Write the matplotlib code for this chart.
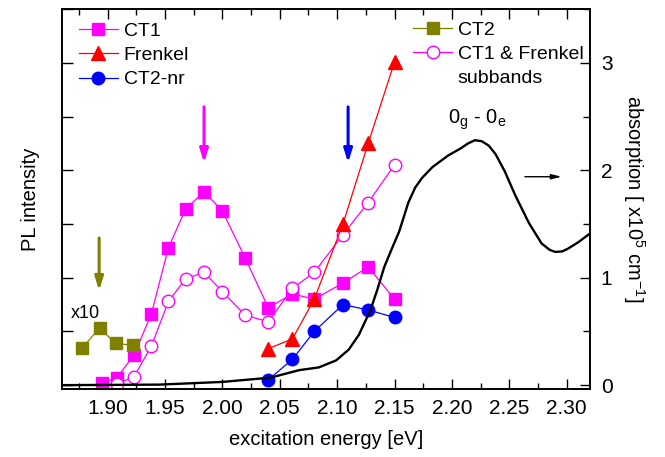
import matplotlib
matplotlib.use("Agg")
import matplotlib.pyplot as plt
from matplotlib.lines import Line2D
from matplotlib.ticker import MultipleLocator, NullFormatter

plt.rcParams['font.family'] = ['Liberation Sans', 'DejaVu Sans']
plt.rcParams['mathtext.fontset'] = 'custom'
plt.rcParams['mathtext.rm'] = 'Liberation Sans'

# PL excitation spectra (arb. units, same scale as the absorption axis)
ct1_x = [1.895, 1.908, 1.923, 1.938, 1.953, 1.968, 1.984, 2.000, 2.020, 2.040, 2.061, 2.080, 2.105, 2.127, 2.150]
ct1_y = [0.02, 0.07, 0.28, 0.66, 1.28, 1.64, 1.80, 1.62, 1.18, 0.72, 0.85, 0.80, 0.95, 1.10, 0.80]

sub_x = [1.908, 1.923, 1.938, 1.953, 1.968, 1.984, 2.000, 2.020, 2.040, 2.061, 2.080, 2.105, 2.127, 2.150]
sub_y = [0.01, 0.08, 0.36, 0.78, 0.99, 1.05, 0.87, 0.65, 0.59, 0.90, 1.05, 1.40, 1.70, 2.05]

frenkel_x = [2.040, 2.061, 2.080, 2.105, 2.127, 2.150]
frenkel_y = [0.34, 0.43, 0.80, 1.50, 2.25, 3.01]

ct2nr_x = [2.040, 2.061, 2.080, 2.105, 2.127, 2.150]
ct2nr_y = [0.05, 0.24, 0.50, 0.75, 0.70, 0.63]

ct2_x = [1.878, 1.893, 1.907, 1.922]
ct2_y = [0.35, 0.53, 0.39, 0.37]

# absorption spectrum [x10^5 cm^-1]
abs_x = [1.860, 1.945, 2.000, 2.042, 2.067, 2.084, 2.099, 2.110, 2.119, 2.129,
         2.135, 2.141, 2.148, 2.154, 2.162, 2.168, 2.174, 2.183, 2.197, 2.207,
         2.214, 2.220, 2.226, 2.232, 2.238, 2.246, 2.255, 2.267, 2.278, 2.285,
         2.290, 2.296, 2.301, 2.310, 2.320]
abs_y = [0.00, 0.005, 0.03, 0.07, 0.14, 0.165, 0.23, 0.33, 0.47, 0.70,
         0.89, 1.10, 1.28, 1.43, 1.70, 1.84, 1.93, 2.03, 2.14, 2.20,
         2.25, 2.28, 2.27, 2.23, 2.15, 1.99, 1.77, 1.51, 1.32, 1.26,
         1.24, 1.245, 1.27, 1.33, 1.41]

fig = plt.figure(figsize=(6.65, 4.57), dpi=100)
ax = fig.add_axes([0.0928, 0.149, 0.794, 0.831])
ax2 = ax.twinx()

fs = 15
fs_leg = 14
ms_sq, ms_ci, ms_tr = 8, 9, 9.5

l_ct1, = ax.plot(ct1_x, ct1_y, color='#ff00ff', lw=0.9, marker='s', ms=ms_sq, label='CT1')
l_sub, = ax.plot(sub_x, sub_y, color='#ff00ff', lw=0.9, marker='o', ms=ms_ci,
                 mfc='white', mec='#ff00ff', mew=1.0, label='CT1 & Frenkel')
l_fr, = ax.plot(frenkel_x, frenkel_y, color='#ff0000', lw=0.9, marker='^', ms=ms_tr, label='Frenkel')
l_nr, = ax.plot(ct2nr_x, ct2nr_y, color='#0000ff', lw=0.9, marker='o', ms=ms_ci, label='CT2-nr')
l_ct2, = ax.plot(ct2_x, ct2_y, color='#808000', lw=0.9, marker='s', ms=ms_sq, label='CT2')

ax2.plot(abs_x, abs_y, color='black', lw=1.7, solid_joinstyle='round')

ax.set_xlim(1.86, 2.32)
ax.set_ylim(-0.035, 3.5)
ax2.set_ylim(-0.035, 3.5)

ax.xaxis.set_major_locator(MultipleLocator(0.05))
ax.xaxis.set_minor_locator(MultipleLocator(0.025))
ax.xaxis.set_major_formatter(plt.FormatStrFormatter('%.2f'))
ax.yaxis.set_major_locator(MultipleLocator(0.5))
ax.yaxis.set_major_formatter(NullFormatter())
ax2.yaxis.set_major_locator(MultipleLocator(1))
ax2.yaxis.set_minor_locator(MultipleLocator(0.5))

ax.tick_params(axis='x', which='both', direction='in', top=True, labelsize=fs, pad=7)
ax.tick_params(axis='x', which='major', length=7, width=1)
ax.tick_params(axis='x', which='minor', length=4, width=1)
ax.tick_params(axis='y', which='major', direction='in', length=8, width=1)
ax2.tick_params(axis='y', which='both', direction='in', labelsize=fs, pad=8, width=1)
ax2.tick_params(axis='y', which='major', length=7)
ax2.tick_params(axis='y', which='minor', length=5)

for a in (ax, ax2):
    for s in a.spines.values():
        s.set_linewidth(1.2)

ax.set_xlabel('excitation energy [eV]', fontsize=fs_leg + 0.5, labelpad=9)
ax.set_ylabel('PL intensity', fontsize=fs_leg + 0.5, labelpad=12)
ax2.set_ylabel(r'absorption [ x10$^5$ cm$^{-1}$]', fontsize=fs_leg + 0.5, rotation=270,
               labelpad=25)

leg1 = ax.legend(handles=[l_ct1, l_fr, l_nr], loc='upper left', bbox_to_anchor=(0.014, 0.99),
                 frameon=False, fontsize=fs_leg, handlelength=2.0, handletextpad=0.3,
                 labelspacing=0.33, borderpad=0.3, borderaxespad=0.2)
ax.add_artist(leg1)
blank = Line2D([], [], linestyle='none', marker=None)
ax.legend(handles=[l_ct2, l_sub, blank], labels=['CT2', 'CT1 & Frenkel', 'subbands'],
          loc='upper left', bbox_to_anchor=(0.647, 0.993), frameon=False, fontsize=fs_leg,
          handlelength=2.0, handletextpad=0.3, labelspacing=0.33, borderpad=0.3,
          borderaxespad=0.2)

# markers of the emission peaks
arrow = dict(arrowstyle='-|>,head_length=0.8,head_width=0.25', lw=2.2, shrinkA=0, shrinkB=0)
ax.annotate('', xy=(1.8926, 0.88), xytext=(1.8926, 1.37), arrowprops=dict(arrow, color='#808000'))
ax.annotate('', xy=(1.984, 2.07), xytext=(1.984, 2.59), arrowprops=dict(arrow, color='#ff00ff'))
ax.annotate('', xy=(2.1095, 2.07), xytext=(2.1095, 2.59), arrowprops=dict(arrow, color='#0000ff'))
ax2.annotate('', xy=(2.2955, 1.94), xytext=(2.2635, 1.94),
             arrowprops=dict(arrowstyle='-|>,head_length=0.6,head_width=0.15', lw=1.0,
                             color='black', shrinkA=0, shrinkB=0))

ax.text(1.8805, 0.67, 'x10', fontsize=13, ha='center', va='center')
ax2.text(2.222, 2.47, r'0$_\mathregular{g}$ - 0$_\mathregular{e}$', fontsize=fs_leg + 0.5,
         ha='center', va='center')

fig.savefig('out.png', dpi=100)
